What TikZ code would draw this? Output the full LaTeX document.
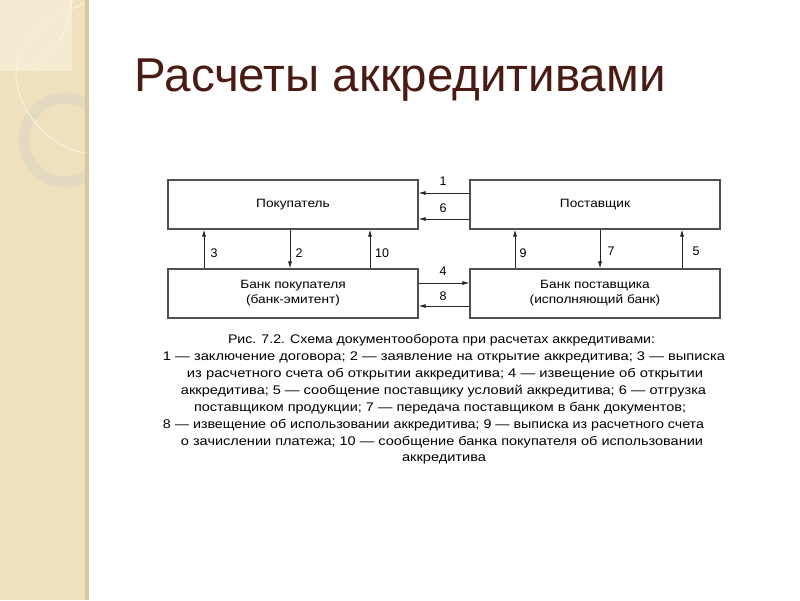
\documentclass[tikz,border=0pt]{standalone}
\usepackage{fontspec}
\setmainfont{Liberation Sans}
\usetikzlibrary{arrows.meta}
\definecolor{panel}{HTML}{F0E1BE}
\definecolor{panellight}{HTML}{F5EAD2}
\definecolor{strip}{HTML}{D8C79F}
\definecolor{ring}{HTML}{E4DAC2}
\definecolor{titlec}{HTML}{4A1B12}
\definecolor{boxc}{HTML}{505050}
\newcommand{\fitw}[2]{\resizebox{#1pt}{\height}{#2}}
\newcommand{\bx}[1]{\scalebox{1.14}[1]{#1}}
\tikzset{
  blk/.style={draw=boxc, line width=1.1pt, minimum width=250pt, minimum height=49pt, inner sep=0pt, font=\fontsize{12}{15}\selectfont, align=center},
  arr/.style={draw=black!85, line width=0.8pt, -{Latex[length=7pt,width=4pt]}},
  num/.style={font=\fontsize{12.5}{12.5}\selectfont, inner sep=0pt},
  capline/.style={font=\fontsize{12.5}{13}\selectfont, inner sep=0pt, anchor=center}
}
\begin{document}
\begin{tikzpicture}[x=1pt,y=-1pt]
\useasboundingbox (0,0) rectangle (800,600);
\fill[white] (0,0) rectangle (800,600);
% left panel
\fill[panel] (0,0) rectangle (85,600);
\fill[panellight] (0,0) rectangle (72,71);
\begin{scope}
\clip (0,0) rectangle (85,600);
\draw[ring, line width=11pt] (66,140) circle (42);
\draw[white!60!panel, line width=0.9pt] (86,3) .. controls (40,20) and (18,45) .. (16,70) .. controls (15,110) and (50,150) .. (88,153);
\draw[white!60!panel, line width=0.9pt] (72,0) .. controls (70,35) and (50,62) .. (16,70);
\end{scope}
\fill[strip] (85,0) rectangle (89,600);
% title
\node[font=\fontsize{47.5}{47.5}\selectfont, text=titlec, inner sep=0pt] (title) at (400,80) {Расчеты аккредитивами};
% boxes
\node[blk] (buyer) at (293,204.5) {\bx{Покупатель}};
\node[blk] (supplier) at (595,204.5) {\bx{Поставщик}};
\node[blk] (bbank) at (293,293.5) {\bx{Банк покупателя}\\\bx{(банк-эмитент)}};
\node[blk] (sbank) at (595,293.5) {\bx{Банк поставщика}\\\bx{(исполняющий банк)}};
% horizontal arrows
\draw[arr] (supplier.west |- 0,193) -- (buyer.east |- 0,193);
\draw[arr] (supplier.west |- 0,219) -- (buyer.east |- 0,219);
\draw[arr] (bbank.east |- 0,283) -- (sbank.west |- 0,283);
\draw[arr] (sbank.west |- 0,306) -- (bbank.east |- 0,306);
\node[num] at (443,181) {1};
\node[num] at (443,208) {6};
\node[num] at (443,271) {4};
\node[num] at (443,296) {8};
% vertical arrows
\draw[arr] (bbank.north -| 204,0) -- (buyer.south -| 204,0);
\draw[arr] (buyer.south -| 290,0) -- (bbank.north -| 290,0);
\draw[arr] (bbank.north -| 370,0) -- (buyer.south -| 370,0);
\draw[arr] (sbank.north -| 515,0) -- (supplier.south -| 515,0);
\draw[arr] (supplier.south -| 600,0) -- (sbank.north -| 600,0);
\draw[arr] (sbank.north -| 682,0) -- (supplier.south -| 682,0);
\node[num] at (214,253) {3};
\node[num] at (299,253) {2};
\node[num] at (382,253) {10};
\node[num] at (523,253) {9};
\node[num] at (611,251) {7};
\node[num] at (696,251) {5};
% caption
\node[capline] (c1) at (441.5,340) {\fitw{427}{Рис. 7.2. Схема документооборота при расчетах аккредитивами:}};
\node[capline] (c2) at (444,357) {\fitw{562}{1 — заключение договора; 2 — заявление на открытие аккредитива; 3 — выписка}};
\node[capline] (c3) at (445,374) {\fitw{516}{из расчетного счета об открытии аккредитива; 4 — извещение об открытии}};
\node[capline] (c4) at (443.5,391) {\fitw{525}{аккредитива; 5 — сообщение поставщику условий аккредитива; 6 — отгрузка}};
\node[capline] (c5) at (440,408) {\fitw{492}{поставщиком продукции; 7 — передача поставщиком в банк документов;}};
\node[capline] (c6) at (433.5,425) {\fitw{541}{8 — извещение об использовании аккредитива; 9 — выписка из расчетного счета}};
\node[capline] (c7) at (442,442) {\fitw{522}{о зачислении платежа; 10 — сообщение банка покупателя об использовании}};
\node[capline] (c8) at (444,459) {\fitw{84}{аккредитива}};
\end{tikzpicture}
\end{document}
